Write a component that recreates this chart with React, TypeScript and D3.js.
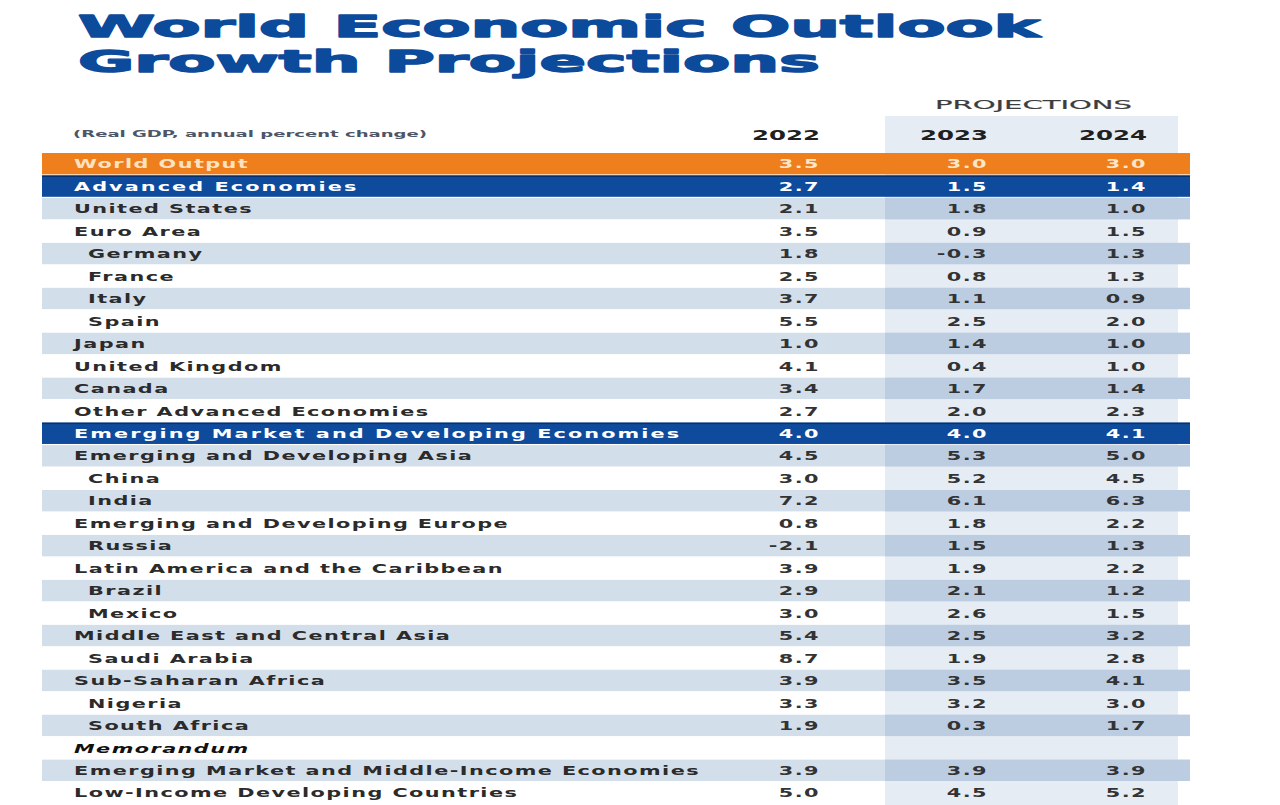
import React from "react";
import * as d3 from "d3";

const rowLabels = [
  "World Output",
  "Advanced Economies",
  "United States",
  "Euro Area",
  "Germany",
  "France",
  "Italy",
  "Spain",
  "Japan",
  "United Kingdom",
  "Canada",
  "Other Advanced Economies",
  "Emerging Market and Developing Economies",
  "Emerging and Developing Asia",
  "China",
  "India",
  "Emerging and Developing Europe",
  "Russia",
  "Latin America and the Caribbean",
  "Brazil",
  "Mexico",
  "Middle East and Central Asia",
  "Saudi Arabia",
  "Sub-Saharan Africa",
  "Nigeria",
  "South Africa",
  "Memorandum",
  "Emerging Market and Middle-Income Economies",
  "Low-Income Developing Countries",
];

// row kind: world / group / main / sub / memo
const rowKinds = [
  "world", "group", "main", "main", "sub", "sub", "sub", "sub", "main", "main", "main", "main",
  "group", "main", "sub", "sub", "main", "sub", "main", "sub", "sub", "main", "sub", "main", "sub", "sub",
  "memo", "main", "main",
];

const values2022: (number | null)[] = [
  3.5, 2.7, 2.1, 3.5, 1.8, 2.5, 3.7, 5.5, 1.0, 4.1, 3.4, 2.7,
  4.0, 4.5, 3.0, 7.2, 0.8, -2.1, 3.9, 2.9, 3.0, 5.4, 8.7, 3.9, 3.3, 1.9,
  null, 3.9, 5.0,
];
const values2023: (number | null)[] = [
  3.0, 1.5, 1.8, 0.9, -0.3, 0.8, 1.1, 2.5, 1.4, 0.4, 1.7, 2.0,
  4.0, 5.3, 5.2, 6.1, 1.8, 1.5, 1.9, 2.1, 2.6, 2.5, 1.9, 3.5, 3.2, 0.3,
  null, 3.9, 4.5,
];
const values2024: (number | null)[] = [
  3.0, 1.4, 1.0, 1.5, 1.3, 1.3, 0.9, 2.0, 1.0, 1.0, 1.4, 2.3,
  4.1, 5.0, 4.5, 6.3, 2.2, 1.3, 2.2, 1.2, 1.5, 3.2, 2.8, 4.1, 3.0, 1.7,
  null, 3.9, 5.2,
];
const years = ["2022", "2023", "2024"];
const titleLines = ["World Economic Outlook", "Growth Projections"];

const W = 1280;
const H = 805;
const SX = 1.6;

const fmt = d3.format(".1f");

export default function App() {
  const y = d3
    .scaleBand<string>()
    .domain(rowLabels)
    .range([153, 153 + rowLabels.length * 22.43])
    .paddingInner(0.05)
    .paddingOuter(0);
  const xCol = d3.scaleOrdinal<string, number>().domain(years).range([820, 988, 1147]);
  const left = 42;
  const right = 1190;
  const projL = 885;
  const projR = 1178;
  const series = [values2022, values2023, values2024];
  const titleY = [37, 72];
  const titleLen = [962, 742];

  // stripes alternate within each section, starting striped after a group row
  const stripes: boolean[] = [];
  let parity = 0;
  rowKinds.forEach((k) => {
    if (k === "world" || k === "group") {
      parity = 0;
      stripes.push(false);
    } else {
      stripes.push(parity % 2 === 0);
      parity++;
    }
  });

  const labelColor = (k: string) =>
    k === "world" ? "#fde2c2" : k === "group" ? "#ffffff" : "#2b2b2b";
  const valueColor = (k: string) =>
    k === "world" ? "#fde6c8" : k === "group" ? "#ffffff" : "#333333";

  return (
    <svg
      width={W}
      height={H}
      style={{ position: "absolute", left: 0, top: 0, background: "#fff" }}
      fontFamily="'DejaVu Sans', sans-serif"
    >
      <rect x={0} y={0} width={W} height={H} fill="#ffffff" />
      {/* Title */}
      {titleLines.map((t, i) => (
        <text
          key={t}
          x={78}
          y={titleY[i]}
          fontSize={30}
          fontWeight="bold"
          fill="#0c4a9c"
          stroke="#0c4a9c"
          strokeWidth={1.4}
          strokeLinejoin="round"
          textLength={titleLen[i]}
          lengthAdjust="spacingAndGlyphs"
        >
          {t}
        </text>
      ))}

      {/* projections shaded column */}
      <rect x={projL} y={116} width={projR - projL} height={H - 116} fill="#e5ecf4" />

      <text
        x={935}
        y={109}
        fontSize={12.5}
        fill="#3d3d3d"
        stroke="#3d3d3d"
        strokeWidth={0.2}
        textLength={197}
        lengthAdjust="spacingAndGlyphs"
      >
        PROJECTIONS
      </text>
      <text
        x={73}
        y={137}
        fontSize={9.5}
        fontWeight="bold"
        fill="#4d5566"
        textLength={354}
        lengthAdjust="spacingAndGlyphs"
      >
        (Real GDP, annual percent change)
      </text>
      {years.map((yr) => (
        <text
          key={yr}
          x={xCol(yr)}
          y={140}
          fontSize={14}
          fontWeight="bold"
          fill="#1f1f1f"
          textAnchor="end"
          textLength={68}
          lengthAdjust="spacingAndGlyphs"
        >
          {yr}
        </text>
      ))}

      {/* rows */}
      {rowLabels.map((lab, i) => {
        const k = rowKinds[i];
        const y0 = y(lab)!;
        const h = y.bandwidth();
        return (
          <g key={lab}>
            {k === "world" && <rect x={left} y={y0} width={right - left} height={h} fill="#ef7e1c" />}
            {k === "group" && (
              <>
                <rect x={left} y={y0} width={right - left} height={h} fill="#0e4b9d" />
                <rect x={left} y={y0} width={right - left} height={1.5} fill="#08306a" />
              </>
            )}
            {stripes[i] && (
              <>
                <rect x={left} y={y0} width={right - left} height={h} fill="#d3deeb" />
                <rect x={projL} y={y0} width={right - projL} height={h} fill="#bccde2" />
              </>
            )}
          </g>
        );
      })}
      {rowLabels.map((lab, i) => {
        const k = rowKinds[i];
        const cy = y(lab)! + y.bandwidth() / 2;
        const lx = k === "sub" ? 88 : 74;
        return (
          <g key={"t" + lab}>
            <g transform={`translate(${lx},${cy + 4.7}) scale(${SX},1)`}>
              <text
                x={0}
                y={0}
                fontSize={13}
                fontWeight="bold"
                fontStyle={k === "memo" ? "italic" : "normal"}
                letterSpacing={k === "group" ? 1.3 : 0.9}
                fill={k === "memo" ? "#111" : labelColor(k)}
              >
                {lab}
              </text>
            </g>
            {series.map((s, j) => {
              const v = s[i];
              if (v === null) return null;
              return (
                <g key={j} transform={`translate(${xCol(years[j])},${cy + 4.7}) scale(${SX},1)`}>
                  <text
                    x={0}
                    y={0}
                    fontSize={13}
                    fontWeight="bold"
                    letterSpacing={0.9}
                    textAnchor="end"
                    fill={valueColor(k)}
                  >
                    {fmt(v).replace("\u2212", "-")}
                  </text>
                </g>
              );
            })}
          </g>
        );
      })}
    </svg>
  );
}
